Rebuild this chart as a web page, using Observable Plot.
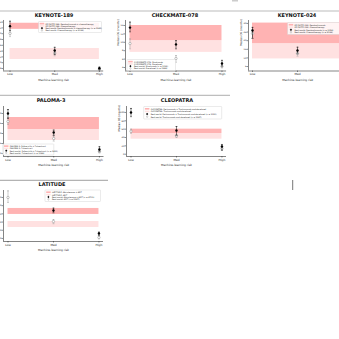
<!DOCTYPE html>
<html><head><meta charset="utf-8">
<script src="https://cdn.jsdelivr.net/npm/d3@7"></script>
<script src="https://cdn.jsdelivr.net/npm/@observablehq/plot@0.6"></script>
<style>
html,body{margin:0;padding:0;background:#fff;}
#root{position:relative;width:339px;height:339px;overflow:hidden;font-family:"DejaVu Sans",sans-serif;}
#root svg{position:absolute;overflow:visible;}
</style></head><body><div id="root"></div>
<script>
// ---------------- data ----------------
const risk = ["Low", "Med", "High"];
const trials = ["KEYNOTE-189", "CHECKMATE-078", "KEYNOTE-024", "PALOMA-3", "CLEOPATRA", "LATITUDE"];
const armA = ["Pembrolizumab + chemotherapy", "Nivolumab", "Pembrolizumab", "Palbociclib + Fulvestrant", "Pertuzumab + Trastuzumab and docetaxel", "Abiraterone + ADT"];
const armB = ["Chemotherapy", "Docetaxel", "Chemotherapy", "Fulvestrant", "Trastuzumab and docetaxel", "ADT"];
const nA = [1245, 1132, 1054, 1431, 1150, 4702];
const nB = [2099, 1344, 2099, 1088, 1287, 5267];
// trial confidence bands [low, high]
const bandA = [[21.5, 23.6], [10.4, 14.0], [18.3, 30.2], [32, 38], [49.6, 60], [49.3, 56.6]];
const bandB = [[11.1, 14.9], [7.6, 10.4], [9.4, 18.3], [26.5, 32], [36, 49.6], [33.4, 40.7]];
// real-world medians per risk group: [median, ci low, ci high]
const rwA = [
  [[22.6, 21.1, 24.3], [14.2, 12.8, 15.3], [8.1, 7.7, 8.5]],
  [[13.5, 12.5, 14.8], [9.5, 8.45, 10.4], [4.95, 4.3, 5.7]],
  [[25.9, 21.3, 27.7], [14.3, 12.4, 16.2], [6.0, 5.0, 7.0]],
  [[40, 37.5, 42], [30.5, 28.9, 31.7], [22, 20.9, 23.4]],
  [[100, 90, 109.6], [56.8, 45, 66.4], [18.5, 9.6, 23.3]],
  [null, [54.1, 51.3, 57], [26.1, 23.7, 27.7]]
];
const rwB = [
  [[20.1, 19.0, 20.9], [13.3, 12.4, 14.2], [7.8, 7.5, 8.1]],
  [[9.7, 8.45, 10.8], [6.15, 5.25, 6.85], [4.25, 3.9, 4.6]],
  [[24.2, 21.5, 26.5], [12.6, 11.0, 14.0], [5.5, 4.6, 6.4]],
  [[36, 34.5, 38], [27.5, 26.2, 29.2], [21, 20.3, 21.8]],
  [[55, 50, 60], [44, 40, 47], [13.7, 9, 17]],
  [[70, 63.9, 78], [40.7, 38, 43], [21.2, 19.5, 23]]
];
const yTicks = [
  [8, 10, 12, 14, 16, 18, 20, 22, 24],
  [4, 6, 8, 10, 12, 14],
  [5, 10, 15, 20, 25, 30],
  [20, 25, 30, 35, 40],
  [0, 20, 40, 60, 80, 100],
  [20, 30, 40, 50, 60, 70]
];
const xTitle = "Machine-learning risk";
const yTitle = "Median OS (months)";

// ---------------- layout ----------------
const geo = [
  {fL: 3, fR: 103.2, fT: 20, fB: 70.5, xd: [-0.146, 2.096], yd: [7.14, 24.55], yLab: false, tx: 54, ty: 15, leg: [38.5, 21.5, 63, 11]},
  {fL: 124.5, fR: 225.6, fT: 20, fB: 70.5, xd: [-0.098, 2.1], yd: [3.17, 15.19], yLab: true, tx: 175, ty: 15, leg: [127, 59.5, 48.5, 11]},
  {fL: 248, fR: 346.5, fT: 20, fB: 70.5, xd: [-0.089, 2.1], yd: [2.4, 31.7], yLab: true, tx: 297, ty: 15, leg: [287.5, 22.5, 60, 12]},
  {fL: 2.5, fR: 103, fT: 106, fB: 156, xd: [-0.098, 2.1], yd: [18.5, 43.5], yLab: false, tx: 51, ty: 99.5, leg: [2.8, 144, 51, 11]},
  {fL: 125.5, fR: 225.5, fT: 106, fB: 156, xd: [-0.099, 2.1], yd: [-5.5, 114.3], yLab: true, tx: 177, ty: 99.5, leg: [143.7, 106.5, 78, 12.5]},
  {fL: 2.5, fR: 102.5, fT: 190, fB: 241, xd: [-0.099, 2.1], yd: [16.3, 78.5], yLab: false, tx: 52, ty: 184, leg: [45, 190, 55.5, 11.5]}
];
const colA = "#ffb3b3", colB = "#ffe1e1";

const root = document.getElementById("root");

function pts(rw) {
  return rw.map((v, k) => v ? {x: k, y: v[0], lo: v[1], hi: v[2]} : null).filter(Boolean);
}

trials.forEach((t, i) => {
  const g = geo[i];
  const mL = 16, mR = 4, mT = 2, mB = 14;
  const W = (g.fR - g.fL) + mL + mR, H = (g.fB - g.fT) + mT + mB;
  const A = pts(rwA[i]), B = pts(rwB[i]);
  const cap = 0.022;
  const errMarks = (data, color) => [
    Plot.ruleX(data, {x: "x", y1: "lo", y2: "hi", stroke: color, strokeWidth: 0.5}),
    Plot.link(data, {x1: d => d.x - cap, x2: d => d.x + cap, y1: "lo", y2: "lo", stroke: color, strokeWidth: 0.5}),
    Plot.link(data, {x1: d => d.x - cap, x2: d => d.x + cap, y1: "hi", y2: "hi", stroke: color, strokeWidth: 0.5})
  ];
  const marks = [
    Plot.rect([bandB[i]], {x1: () => 0, x2: () => risk.length - 1, y1: d => d[0], y2: d => d[1], fill: colB, clip: true}),
    Plot.rect([bandA[i]], {x1: () => 0, x2: () => risk.length - 1, y1: d => d[0], y2: d => d[1], fill: colA, clip: true}),
    ...errMarks(B, "#999"),
    Plot.dot(B, {x: "x", y: "y", r: 1.2, fill: "white", stroke: "#888", strokeWidth: 0.5}),
    ...errMarks(A, "#000"),
    Plot.dot(A, {x: "x", y: "y", r: 1.2, fill: "#000"}),
    Plot.ruleY([g.yd[0]], {stroke: "#333", strokeWidth: 0.6}),
    Plot.ruleX([g.xd[0]], {stroke: "#333", strokeWidth: 0.6}),
    Plot.axisX({ticks: [0, 1, 2], tickFormat: k => risk[k], tickSize: 1.5, tickPadding: 0.8, fontSize: 2.9, strokeWidth: 0.5, label: null}),
    Plot.axisY({ticks: yTicks[i], tickSize: 1.5, tickPadding: 0.7, fontSize: 2.2, strokeWidth: 0.5, label: null}),
    Plot.text([xTitle], {frameAnchor: "bottom", dy: 9.8, fontSize: 2.9, fill: "#222"})
  ];
  if (g.yLab) marks.push(Plot.text([yTitle], {frameAnchor: "left", dx: -7.5, rotate: -90, fontSize: 2.6, fill: "#222"}));
  const p = Plot.plot({
    width: W, height: H, marginLeft: mL, marginRight: mR, marginTop: mT, marginBottom: mB,
    style: {fontFamily: "DejaVu Sans", fontSize: "2.6px", background: "transparent", color: "#222"},
    x: {domain: g.xd}, y: {domain: g.yd},
    marks
  });
  p.style.left = (g.fL - mL) + "px";
  p.style.top = (g.fT - mT) + "px";
  root.appendChild(p);
});

// ---------------- overlay: rules, titles, legends ----------------
const svg = d3.select(root).append("svg")
  .attr("width", 339).attr("height", 339)
  .style("left", "0px").style("top", "0px")
  .attr("font-family", "DejaVu Sans");

svg.append("rect").attr("x", 232).attr("y", 0).attr("width", 6).attr("height", 1.5).attr("fill", "#ccc");
svg.append("line").attr("x1", 0).attr("x2", 339).attr("y1", 11).attr("y2", 11).attr("stroke", "#bbb").attr("stroke-width", 1);
svg.append("line").attr("x1", 0).attr("x2", 230).attr("y1", 95.3).attr("y2", 95.3).attr("stroke", "#999").attr("stroke-width", 0.8);
svg.append("line").attr("x1", 0).attr("x2", 108).attr("y1", 180.3).attr("y2", 180.3).attr("stroke", "#888").attr("stroke-width", 0.8);
svg.append("line").attr("x1", 292.7).attr("x2", 292.7).attr("y1", 180).attr("y2", 190).attr("stroke", "#777").attr("stroke-width", 1);

trials.forEach((t, i) => {
  const g = geo[i];
  svg.append("text").attr("x", g.tx).attr("y", g.ty).attr("text-anchor", "middle")
    .attr("dominant-baseline", "central").attr("font-weight", "bold").attr("font-size", 5).attr("fill", "#111").text(t);
  const [lx, ly, lw, lh] = g.leg;
  const lg = svg.append("g");
  lg.append("rect").attr("x", lx).attr("y", ly).attr("width", lw).attr("height", lh).attr("rx", 0.6)
    .attr("fill", "white").attr("fill-opacity", 0.85).attr("stroke", "#ccc").attr("stroke-width", 0.4);
  const labels = [
    `${t}: ${armA[i]}`,
    `${t}: ${armB[i]}`,
    `Real-world: ${armA[i]} (n = ${nA[i]})`,
    `Real-world: ${armB[i]} (n = ${nB[i]})`
  ];
  const step = (lh - 2) / 4;
  labels.forEach((s, r) => {
    const cy = ly + 1 + step * (r + 0.5);
    if (r < 2) {
      lg.append("rect").attr("x", lx + 1.2).attr("y", cy - 0.8).attr("width", 4.5).attr("height", 1.6).attr("fill", r === 0 ? colA : colB);
    } else {
      const c = r === 2 ? "#000" : "#999";
      lg.append("line").attr("x1", lx + 3.45).attr("x2", lx + 3.45).attr("y1", cy - 1).attr("y2", cy + 1).attr("stroke", c).attr("stroke-width", 0.4);
      lg.append("circle").attr("cx", lx + 3.45).attr("cy", cy).attr("r", 0.7)
        .attr("fill", r === 2 ? "#000" : "white").attr("stroke", c).attr("stroke-width", 0.35);
    }
    lg.append("text").attr("x", lx + 7).attr("y", cy).attr("dominant-baseline", "central")
      .attr("font-size", 2).attr("fill", "#222").text(s);
  });
});
</script></body></html>
